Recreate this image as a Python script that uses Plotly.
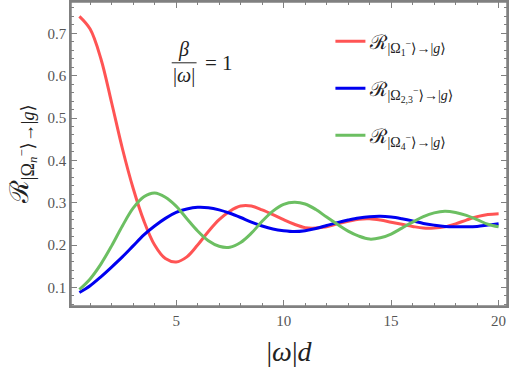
import plotly.graph_objects as go

# |omega| d values, read every 0.5 from the picture
x_vals = [0.5 + 0.5 * i for i in range(40)]

red_vals = [0.740, 0.710, 0.640, 0.536, 0.428, 0.334, 0.257, 0.200, 0.168, 0.160,
            0.172, 0.200, 0.232, 0.260, 0.280, 0.292, 0.292, 0.283, 0.272, 0.260,
            0.249, 0.241, 0.240, 0.243, 0.250, 0.256, 0.261, 0.262, 0.259, 0.254,
            0.249, 0.244, 0.240, 0.240, 0.243, 0.250, 0.259, 0.267, 0.272, 0.274]

blue_vals = [0.088, 0.104, 0.125, 0.148, 0.172, 0.198, 0.224, 0.245, 0.263, 0.277,
             0.285, 0.289, 0.288, 0.283, 0.275, 0.265, 0.254, 0.245, 0.238, 0.234,
             0.232, 0.234, 0.239, 0.246, 0.253, 0.259, 0.264, 0.267, 0.268, 0.266,
             0.262, 0.257, 0.251, 0.247, 0.244, 0.243, 0.243, 0.244, 0.247, 0.250]

green_vals = [0.095, 0.120, 0.155, 0.198, 0.245, 0.287, 0.314, 0.323, 0.313, 0.292,
              0.262, 0.233, 0.210, 0.197, 0.195, 0.206, 0.228, 0.256, 0.280, 0.296,
              0.301, 0.297, 0.284, 0.266, 0.249, 0.233, 0.221, 0.214, 0.217, 0.226,
              0.240, 0.254, 0.267, 0.276, 0.280, 0.277, 0.270, 0.260, 0.249, 0.243]

names = [
    "ℛ<sub>|Ω<sub>1</sub><sup>−</sup>⟩→|<i>g</i>⟩</sub>",
    "ℛ<sub>|Ω<sub>2,3</sub><sup>−</sup>⟩→|<i>g</i>⟩</sub>",
    "ℛ<sub>|Ω<sub>4</sub><sup>−</sup>⟩→|<i>g</i>⟩</sub>",
]
colors = ["#FF5454", "#0000F0", "#6CBF62"]
serif = "Liberation Serif, Times New Roman, DejaVu Serif, serif"
frame = "#808080"

fig = go.Figure()
for i, ys in enumerate([red_vals, blue_vals, green_vals]):
    fig.add_trace(go.Scatter(x=x_vals, y=ys, name=names[i], mode="lines",
                             line=dict(color=colors[i], width=3, shape="spline"),
                             legendgroup=str(i)))

axis_style = dict(showline=True, linecolor=frame, linewidth=1.5, mirror="allticks",
                  ticks="inside", ticklen=6, tickcolor=frame, tickwidth=1.2,
                  automargin=False, tickmode="linear",
                  tickfont=dict(family=serif, size=15, color="#555555"))

fig.update_xaxes(range=[0.11, 20.39], tick0=0, dtick=5,
                 minor=dict(ticks="inside", tickmode="linear", tick0=0, dtick=1, ticklen=3,
                            tickcolor=frame, tickwidth=1),
                 title=dict(text="|<i>ω</i>|<i>d</i>", font=dict(family=serif, size=28, color="#222222"),
                            standoff=14),
                 **axis_style)
fig.update_yaxes(range=[0.056, 0.774], tick0=0, dtick=0.1,
                 minor=dict(ticks="inside", tickmode="linear", tick0=0, dtick=0.02, ticklen=3,
                            tickcolor=frame, tickwidth=1),
                 **axis_style)

# frame around the plot area
fig.add_shape(type="rect", xref="paper", yref="paper", x0=0, x1=1, y0=0, y1=1,
              line=dict(color=frame, width=1.5), layer="above")

# y axis title as a rotated annotation
fig.add_annotation(x=-0.112, y=0.50, xref="paper", yref="paper", showarrow=False, textangle=-90,
                   xanchor="center", yanchor="middle",
                   text="ℛ<sub>|Ω<sub><i>n</i></sub><sup>−</sup>⟩→|<i>g</i>⟩</sub>",
                   font=dict(family=serif, size=26, color="#222222"))

# beta / |omega| = 1
fig.add_annotation(x=0.259, y=0.80, xref="paper", yref="paper", showarrow=False,
                   xanchor="center", yanchor="middle",
                   text="<i>β</i><br>|<i>ω</i>|", font=dict(family=serif, size=20, color="#222222"),
                   align="center")
fig.add_annotation(x=0.339, y=0.80, xref="paper", yref="paper", showarrow=False,
                   xanchor="center", yanchor="middle",
                   text="= 1", font=dict(family=serif, size=21, color="#222222"))
fig.add_shape(type="line", xref="paper", yref="paper", x0=0.231, x1=0.288, y0=0.80, y1=0.80,
              line=dict(color="#222222", width=1))

fig.update_layout(template="none", width=510, height=376, margin=dict(l=71, r=3, t=2, b=70),
                  plot_bgcolor="white", paper_bgcolor="white",
                  xaxis_showgrid=False, yaxis_showgrid=False,
                  xaxis_zeroline=False, yaxis_zeroline=False,
                  legend=dict(x=0.595, y=0.935, xanchor="left", yanchor="top", tracegroupgap=18,
                              bgcolor="rgba(0,0,0,0)",
                              font=dict(family=serif, size=20, color="#222222")))

fig.write_html("out.html", config={"displayModeBar": False},
               post_script="document.body.style.margin='0';")
